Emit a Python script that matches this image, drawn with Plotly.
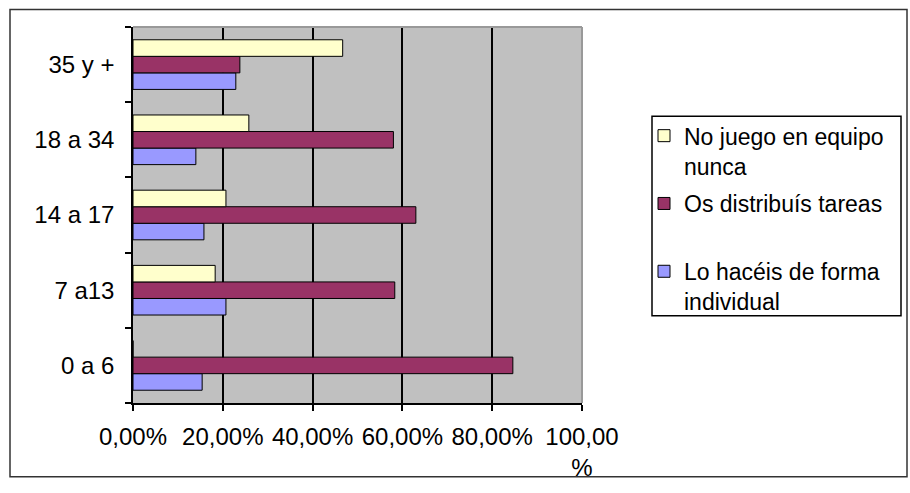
import plotly.graph_objects as go

# ---- data ----
categories = ["0 a 6", "7 a13", "14 a 17", "18 a 34", "35 y +"]
series_names = ["Lo hacéis de forma<br>individual",
                "Os distribuís tareas<br>\u00a0",
                "No juego en equipo<br>nunca"]
individual = [15.4, 20.7, 15.8, 14.0, 22.9]
distribuis = [84.6, 58.3, 63.0, 58.0, 23.8]
no_juego = [0.0, 18.3, 20.7, 25.8, 46.7]
series_values = [individual, distribuis, no_juego]
series_colors = ["#9999FF", "#993366", "#FFFFCC"]
legend_ranks = [3, 2, 1]
x_tickvals = [0, 20, 40, 60, 80, 100]
x_ticktext = ["0,00%", "20,00%", "40,00%", "60,00%", "80,00%", "100,00<br>%"]

W, H = 910, 493
L, R, T, B = 133, 582, 27, 415
pw, ph = R - L, B - T

def px(x):
    return (x - L) / pw

def py(y):
    return (B - y) / ph

FONT = "Arial, Liberation Sans, sans-serif"

fig = go.Figure()
for i, (name, vals, col, rk) in enumerate(zip(series_names, series_values, series_colors, legend_ranks)):
    fig.add_trace(go.Bar(
        y=categories, x=vals, orientation="h", name=name,
        marker=dict(color=col, line=dict(color="black", width=1)),
        legendgroup=f"g{i}", legendrank=rk,
    ))

fig.update_layout(
    width=W, height=H,
    margin=dict(l=L, r=W - R, t=T, b=H - B, pad=0),
    paper_bgcolor="white",
    plot_bgcolor="#C0C0C0",
    barmode="group",
    bargap=0.34,
    bargroupgap=0,
    font=dict(family=FONT, size=24, color="black"),
    showlegend=True,
    legend=dict(
        x=px(644), y=py(117), xanchor="left", yanchor="top",
        bgcolor="rgba(0,0,0,0)", borderwidth=0,
        traceorder="grouped", tracegroupgap=5,
        valign="top", font=dict(family=FONT, size=23, color="black"),
    ),
    xaxis=dict(
        range=[0, 100], tickvals=x_tickvals, ticktext=x_ticktext,
        showgrid=True, gridcolor="black", gridwidth=1.5,
        showline=True, linecolor="black", linewidth=1.5,
        ticks="outside", ticklen=6, tickcolor="black", tickwidth=1.5,
        ticklabelstandoff=5, zeroline=False, fixedrange=True,
    ),
    yaxis=dict(
        categoryorder="array", categoryarray=categories,
        showline=True, linecolor="black", linewidth=1.5,
        ticks="outside", ticklen=6, tickcolor="black", tickwidth=1.5,
        tickson="boundaries", showgrid=False, ticklabelstandoff=12,
        fixedrange=True,
    ),
    shapes=[
        # plot area top & right border (grey)
        dict(type="line", xref="paper", yref="paper", x0=0, x1=1, y0=1, y1=1,
             line=dict(color="#999999", width=2)),
        dict(type="line", xref="paper", yref="paper", x0=1, x1=1, y0=0, y1=1,
             line=dict(color="#999999", width=2)),
        # legend box
        dict(type="rect", xref="paper", yref="paper",
             x0=px(652), x1=px(901), y0=py(325), y1=py(119),
             line=dict(color="black", width=1.5), fillcolor="rgba(0,0,0,0)"),
        # outer chart border
        dict(type="rect", xref="paper", yref="paper",
             x0=px(10), x1=px(907), y0=py(491), y1=py(9),
             line=dict(color="#333333", width=1.5), fillcolor="rgba(0,0,0,0)"),
    ],
)

fig.write_html("out.html")
